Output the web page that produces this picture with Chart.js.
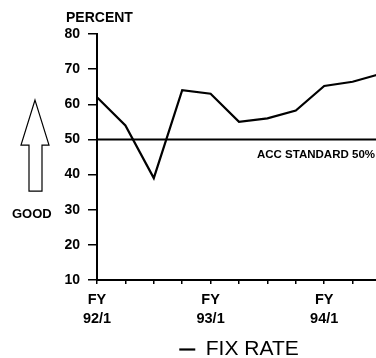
<!DOCTYPE html>
<html>
<head>
<meta charset="utf-8">
<script src="https://cdn.jsdelivr.net/npm/chart.js@4/dist/chart.umd.min.js"></script>
<style>
  html, body { margin: 0; padding: 0; background: #fff; }
  #wrap { width: 376px; height: 358px; overflow: hidden; position: relative; }
  #wrap canvas { position: absolute; left: 0; top: 0; }
</style>
</head>
<body>
<div id="wrap"><canvas id="fixChart" width="400" height="370"></canvas></div>
<script>
// Quarters, FY92/1 onwards (the last one runs off the right edge of the page)
const quarters = ['92/1', '92/2', '92/3', '92/4', '93/1', '93/2', '93/3', '93/4', '94/1', '94/2', '94/3'];
const fixRate = [62, 54, 39, 64, 63, 55, 56, 58.2, 65.2, 66.4, 68.7];
const accStandard = [50, 50, 50, 50, 50, 50, 50, 50, 50, 50, 50];
const labelledQuarters = ['92/1', '93/1', '94/1'];

const FONT = "'Liberation Sans', Arial, sans-serif";

// texte et flèche autour du graphique
const notes = {
    id: 'notes',
    afterDraw(chart) {
        const ctx = chart.ctx;
        const y = chart.scales.y;
        ctx.save();
        ctx.fillStyle = '#000';
        ctx.textBaseline = 'alphabetic';

        ctx.font = 'bold 14px ' + FONT;
        ctx.textAlign = 'left';
        ctx.fillText('PERCENT', 66, 22);

        ctx.font = 'bold 11.5px ' + FONT;
        ctx.textAlign = 'right';
        ctx.fillText('ACC STANDARD 50%', 375, y.getPixelForValue(50) + 19);

        ctx.font = 'bold 13px ' + FONT;
        ctx.textAlign = 'left';
        ctx.fillText('GOOD', 12, y.getPixelForValue(30) + 8);

        // flèche vers le haut
        const tip = y.getPixelForValue(61.2);
        const neck = y.getPixelForValue(48.4);
        const foot = y.getPixelForValue(35.3);
        ctx.beginPath();
        ctx.moveTo(35, tip);
        ctx.lineTo(49, neck);
        ctx.lineTo(42, neck);
        ctx.lineTo(42, foot);
        ctx.lineTo(29, foot);
        ctx.lineTo(29, neck);
        ctx.lineTo(21, neck);
        ctx.closePath();
        ctx.lineWidth = 1.2;
        ctx.strokeStyle = '#000';
        ctx.stroke();
        ctx.restore();
    }
};

new Chart(document.getElementById('fixChart'), {
    type: 'line',
    data: {
        labels: quarters,
        datasets: [
            {
                label: 'FIX RATE',
                data: fixRate,
                borderColor: '#000',
                backgroundColor: '#000',
                borderWidth: 2.2,
                pointRadius: 0,
                pointStyle: 'line',
                tension: 0
            },
            {
                label: 'ACC STANDARD 50%',
                data: accStandard,
                borderColor: '#000',
                borderWidth: 2,
                pointRadius: 0,
                tension: 0
            }
        ]
    },
    options: {
        responsive: false,
        animation: false,
        layout: { padding: { top: 34, right: 19, left: 0, bottom: 0 } },
        scales: {
            x: {
                offset: false,
                border: { color: '#000', width: 2 },
                grid: { drawOnChartArea: false, color: '#000', tickLength: 4, lineWidth: 1.5 },
                ticks: {
                    autoSkip: false,
                    maxRotation: 0,
                    padding: 7,
                    color: '#000',
                    font: { family: FONT, size: 14.5, weight: 'bold', lineHeight: 1.3 },
                    callback: function(value) {
                        const q = quarters[value];
                        return labelledQuarters.includes(q) ? ['FY', q] : '';
                    }
                },
                afterFit(scale) { scale.height = 55; }
            },
            y: {
                min: 10,
                max: 80,
                border: { color: '#000', width: 2 },
                grid: { drawOnChartArea: false, color: '#000', tickLength: 9, lineWidth: 1.5 },
                ticks: {
                    stepSize: 10,
                    padding: 8,
                    color: '#000',
                    font: { family: FONT, size: 14, weight: 'bold' }
                },
                afterFit(scale) { scale.width = 97; }
            }
        },
        plugins: {
            legend: {
                position: 'bottom',
                fullSize: false,
                labels: {
                    filter: item => item.datasetIndex === 0,
                    usePointStyle: true,
                    pointStyleWidth: 16,
                    padding: 4,
                    color: '#000',
                    font: { family: FONT, size: 21 }
                }
            },
            tooltip: { enabled: false }
        }
    },
    plugins: [notes]
});
</script>
</body>
</html>
